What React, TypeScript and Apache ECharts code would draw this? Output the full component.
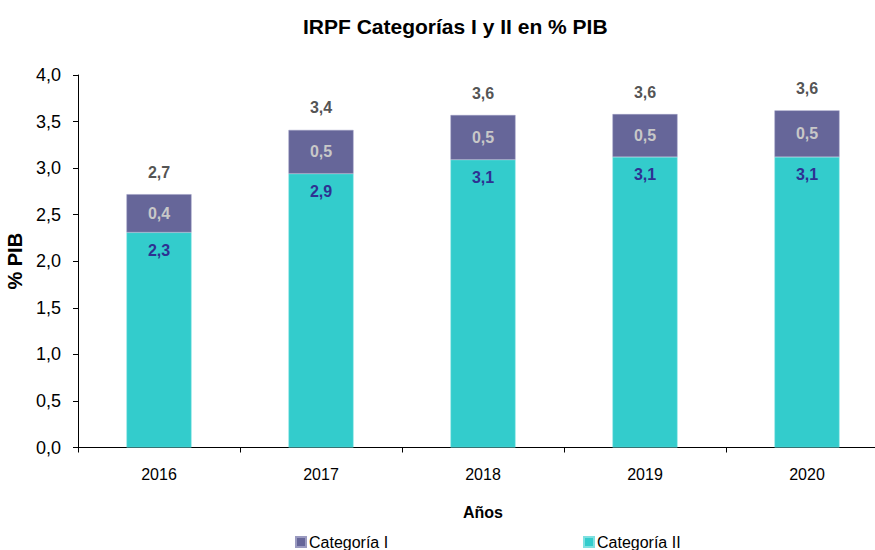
import React, { useEffect, useRef } from "react";
import * as echarts from "echarts";

const years = ["2016", "2017", "2018", "2019", "2020"];
const categoriaII = [2.31, 2.94, 3.09, 3.12, 3.12];
const categoriaI = [0.41, 0.47, 0.48, 0.46, 0.5];
const yTicks = [0, 0.5, 1, 1.5, 2, 2.5, 3, 3.5, 4];

const FONT = "Arial, 'Liberation Sans', sans-serif";
const fmt = (v: number) => v.toFixed(1).replace(".", ",");

export default function App() {
  const ref = useRef<HTMLDivElement>(null);
  useEffect(() => {
    if (!ref.current) return;
    const chart = echarts.init(ref.current, undefined, { renderer: "svg" });
    const totals = categoriaII.map((v, i) => v + categoriaI[i]);
    chart.setOption({
      animation: false,
      textStyle: { fontFamily: FONT },
      title: {
        text: "IRPF Categorías I y II en % PIB",
        left: 298,
        top: 11,
        textStyle: { fontFamily: FONT, fontSize: 21, fontWeight: "bold", color: "#000" },
      },
      legend: [
        {
          data: ["Categoría I"],
          left: 290,
          top: 529,
          itemWidth: 10,
          itemHeight: 10,
          itemGap: 3,
          icon: "rect",
          textStyle: { fontFamily: FONT, fontSize: 16, color: "#000", padding: [0, 0, 0, -2] },
        },
        {
          data: ["Categoría II"],
          left: 578,
          top: 529,
          itemWidth: 10,
          itemHeight: 10,
          icon: "rect",
          textStyle: { fontFamily: FONT, fontSize: 16, color: "#000", padding: [0, 0, 0, -2] },
        },
      ],
      grid: {
        left: 78,
        width: 810,
        top: 75,
        bottom: 102.5,
        containLabel: false,
        outerBoundsMode: "none",
      },
      xAxis: {
        type: "category",
        data: years,
        name: "Años",
        nameLocation: "middle",
        nameGap: 57,
        nameTextStyle: { fontFamily: FONT, fontSize: 16, fontWeight: "bold", color: "#000" },
        axisLine: { lineStyle: { color: "#000", width: 1 } },
        axisTick: { show: true, alignWithLabel: false, length: 5, lineStyle: { color: "#000" } },
        axisLabel: { fontFamily: FONT, fontSize: 16, color: "#000", margin: 19 },
      },
      yAxis: {
        type: "value",
        min: 0,
        max: 4,
        interval: 0.5,
        name: "% PIB",
        nameLocation: "middle",
        nameGap: 53,
        nameRotate: 90,
        nameTextStyle: { fontFamily: FONT, fontSize: 20, fontWeight: "bold", color: "#000" },
        axisLine: { show: true, lineStyle: { color: "#000", width: 1 } },
        axisTick: { show: true, length: 5, lineStyle: { color: "#000" } },
        splitLine: { show: false },
        axisLabel: {
          fontFamily: FONT,
          fontSize: 18,
          color: "#000",
          margin: 17,
          formatter: (v: number) => (yTicks.includes(v) ? fmt(v) : ""),
        },
      },
      series: [
        {
          name: "Categoría II",
          type: "bar",
          stack: "total",
          data: categoriaII,
          barWidth: 65,
          itemStyle: { color: "#33CCCC", borderColor: "#7fe0e0", borderWidth: 0.5 },
          label: {
            show: true,
            position: "insideTop",
            distance: 10,
            formatter: (p: any) => fmt(p.value),
            fontFamily: FONT,
            fontSize: 16,
            fontWeight: "bold",
            color: "#2e3192",
          },
        },
        {
          name: "Categoría I",
          type: "bar",
          stack: "total",
          data: categoriaI,
          barWidth: 65,
          itemStyle: { color: "#666699", borderColor: "#9a9ac0", borderWidth: 0.5 },
          label: {
            show: true,
            position: "inside",
            formatter: (p: any) => fmt(p.value),
            fontFamily: FONT,
            fontSize: 16,
            fontWeight: "bold",
            color: "#c8c8c8",
          },
        },
        {
          name: "Total",
          type: "scatter",
          data: totals,
          symbolSize: 0,
          silent: true,
          label: {
            show: true,
            position: "top",
            distance: 14,
            formatter: (p: any) => fmt(p.value),
            fontFamily: FONT,
            fontSize: 16,
            fontWeight: "bold",
            color: "#262626",
          },
        },
      ],
    });
    return () => chart.dispose();
  }, []);
  return <div ref={ref} style={{ width: 875, height: 550, position: "absolute", left: 0, top: 0 }} />;
}
